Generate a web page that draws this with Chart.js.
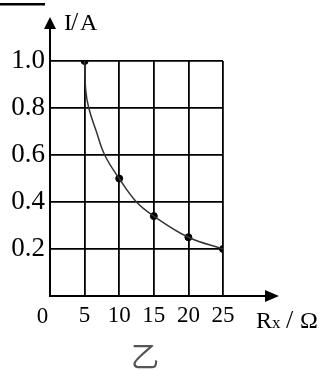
<!DOCTYPE html>
<html><head><meta charset="utf-8">
<script src="https://cdn.jsdelivr.net/npm/chart.js@4"></script>
<style>html,body{margin:0;padding:0;background:#fff}canvas{display:block}</style>
</head><body>
<canvas id="c" width="324" height="370" style="width:324px;height:370px"></canvas>
<script>
// measured points
const resistance = [5, 10, 15, 20, 25];
const current = [1.0, 0.5, 0.34, 0.25, 0.2];
// smooth curve as drawn in the picture
const curveR = [5, 5.15, 5.6, 6.7, 7.9, 10, 12.5, 15, 20, 25];
const curveI = [1.0, 0.88, 0.8, 0.7, 0.6, 0.5, 0.4, 0.34, 0.25, 0.2];
const xTicks = [0, 5, 10, 15, 20, 25];
const yTicks = [0.2, 0.4, 0.6, 0.8, 1.0];
const xTitle = ['R', 'x', '/', 'Ω'];
const yTitle = ['I', '/', 'A'];
const caption = '乙';

const SERIF = '"Liberation Serif","Times New Roman",serif';

const extras = {
  id: 'extras',
  afterDraw(chart) {
    const ctx = chart.ctx, xs = chart.scales.x, ys = chart.scales.y;
    const x0 = xs.getPixelForValue(0), y0 = ys.getPixelForValue(0);
    const yTop = ys.getPixelForValue(1.0), xRight = xs.getPixelForValue(25);
    ctx.save();
    ctx.strokeStyle = '#000'; ctx.fillStyle = '#000'; ctx.lineWidth = 2;
    // y axis extension + arrow
    ctx.beginPath(); ctx.moveTo(x0, yTop); ctx.lineTo(x0, 24); ctx.stroke();
    ctx.beginPath(); ctx.moveTo(x0, 17); ctx.lineTo(x0 - 6, 29); ctx.lineTo(x0 + 6, 29); ctx.closePath(); ctx.fill();
    // x axis extension + arrow
    ctx.beginPath(); ctx.moveTo(xRight, y0); ctx.lineTo(272, y0); ctx.stroke();
    ctx.beginPath(); ctx.moveTo(279, y0); ctx.lineTo(265, y0 - 6); ctx.lineTo(265, y0 + 6); ctx.closePath(); ctx.fill();
    // top-left bar
    ctx.fillRect(0, 3, 45, 2.5);
    // y title
    ctx.textBaseline = 'alphabetic'; ctx.textAlign = 'left';
    ctx.font = '24px ' + SERIF;
    ctx.fillText(yTitle[0], 64, 30);
    ctx.font = '26px ' + SERIF;
    ctx.fillText(yTitle[1], 71, 30);
    ctx.font = '24px ' + SERIF;
    ctx.fillText(yTitle[2], 80, 30);
    // x title
    ctx.fillText(xTitle[0], 256, 328);
    ctx.font = '17px ' + SERIF;
    ctx.fillText(xTitle[1], 272, 328);
    ctx.font = '26px ' + SERIF;
    ctx.fillText(xTitle[2], 286, 328);
    ctx.font = '24px ' + SERIF;
    ctx.fillText(xTitle[3], 300, 328);
    // origin label
    ctx.textAlign = 'center';
    ctx.font = '23px ' + SERIF;
    ctx.fillText('0', x0 - 7.5, 323);
    // caption
    ctx.fillStyle = '#555';
    ctx.font = '28px "Noto Sans CJK SC"';
    ctx.fillText(caption, 145, 367);
    ctx.restore();
  }
};

new Chart(document.getElementById('c'), {
  type: 'scatter',
  data: {
    datasets: [
      {
        type: 'line',
        data: curveR.map((r, i) => ({x: r, y: curveI[i]})),
        borderColor: '#333', borderWidth: 1.5, pointRadius: 0,
        tension: 0.4, fill: false
      },
      {
        data: resistance.map((r, i) => ({x: r, y: current[i]})),
        backgroundColor: '#000', borderColor: '#000', pointRadius: 3.5
      }
    ]
  },
  options: {
    responsive: false, animation: false, devicePixelRatio: 1,
    layout: {padding: {top: 61, right: 101, left: 0, bottom: 0}},
    plugins: {legend: {display: false}, tooltip: {enabled: false}},
    scales: {
      x: {
        type: 'linear', min: 0, max: 25,
        afterBuildTicks(s) { s.ticks = xTicks.map(v => ({value: v})); },
        afterFit(s) { s.height = 74; },
        grid: {color: '#000', lineWidth: 1.8, drawTicks: false},
        border: {color: '#000', width: 2},
        ticks: {
          color: '#000', padding: 6, maxRotation: 0, autoSkip: false,
          font: {family: SERIF, size: 23},
          callback: v => v === 0 ? '' : String(v)
        }
      },
      y: {
        type: 'linear', min: 0, max: 1.0,
        afterBuildTicks(s) { s.ticks = [0].concat(yTicks).map(v => ({value: v})); },
        afterFit(s) { s.width = 50; },
        grid: {color: '#000', lineWidth: 1.8, drawTicks: false},
        border: {color: '#000', width: 2},
        ticks: {
          color: '#000', padding: 5, autoSkip: false,
          font: {family: SERIF, size: 27},
          callback: v => v === 0 ? '' : v.toFixed(1)
        }
      }
    }
  },
  plugins: [extras]
});
</script>
</body></html>
